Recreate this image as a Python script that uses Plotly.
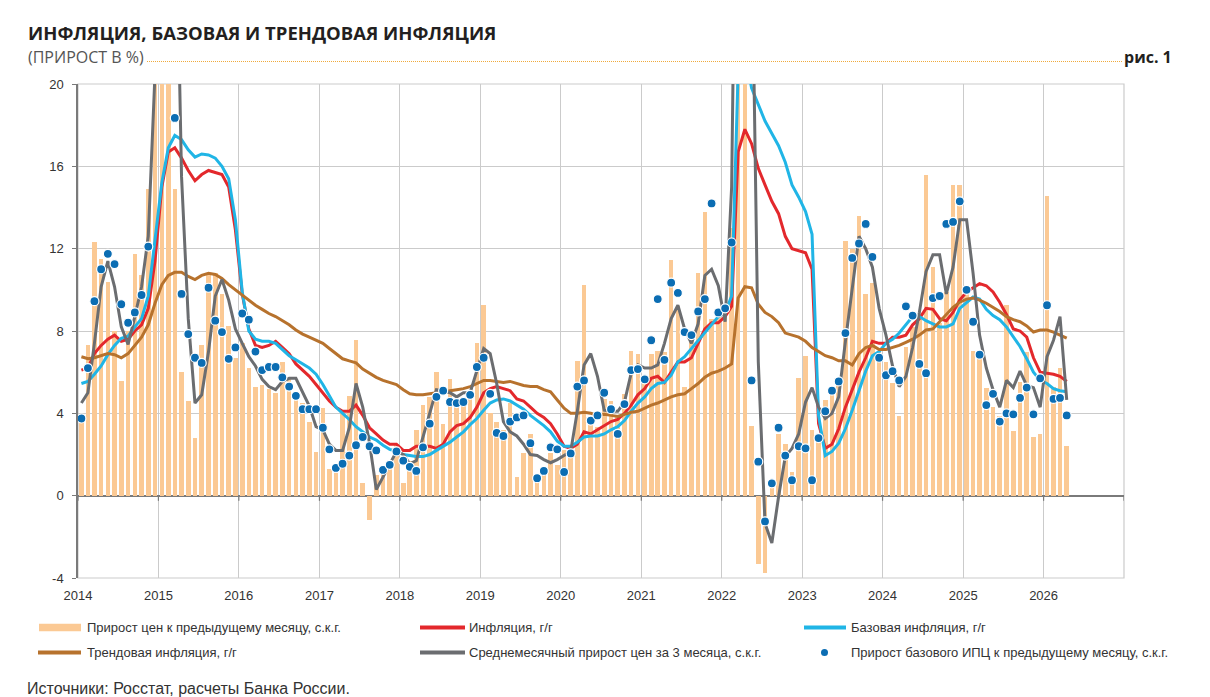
import pandas as pd
import plotly.graph_objects as go

# ---------------- data (Jan 2014 .. Apr 2026, monthly) ----------------
months = pd.date_range("2014-01-01", periods=148, freq="MS")

mom_saar = [  # Прирост цен к предыдущему месяцу, с.к.г.
    3.8, 7.3, 12.3, 11.5, 10.4, 8.0, 5.55, 8.0, 11.75, 10.7, 14.9, 34,
    57, 25, 14.9, 6.0, 4.6, 2.8, 7.3, 10.7, 10.8, 9.8, 8.25, 6.7,
    7.4, 6.2, 5.3, 5.4, 5.2, 5.0, 6.5, 5.7, 5.0, 4.5, 3.6, 2.1,
    4.25, 1.3, 1.1, 4.0, 4.85, 7.55, 0.6, -1.2, 1.0, 1.4, 1.7, 2.5,
    0.6, 1.7, 3.2, 4.4, 4.8, 6.0, 3.5, 5.65, 4.4, 4.5, 5.0, 7.4,
    9.25, 4.0, 3.6, 3.2, 4.5, 0.9, 2.05, 3.0, 0.7, 1.3, 2.05, 1.5,
    2.2, 2.4, 6.55, 10.25, 3.6, 3.35, 4.7, 4.6, 3.9, 4.95, 7.05, 6.9,
    5.6, 6.9, 7.05, 7.0, 11.45, 9.2, 5.3, 7.7, 10.8, 13.8, 8.6, 8.7,
    8.7, 13.0, 60, 21, 3.4, -3.3, -3.75, 0.75, 3.0, 2.5, 1.15, 5.7,
    6.8, 3.2, 2.8, 4.65, 5.0, 5.6, 12.35, 12.0, 13.6, 9.8, 10.35, 7.0,
    6.5, 5.45, 3.85, 7.2, 8.2, 8.7, 15.6, 11.1, 8.4, 9.9, 15.1, 15.1,
    10.0, 7.05, 6.75, 5.25, 4.3, 3.85, 9.25, 3.15, 5.5, 7.0, 2.85, 3.0,
    14.55, 5.3, 6.2, 2.4,
]

cpi_yoy = [  # Инфляция, г/г
    6.1, 6.2, 6.9, 7.3, 7.6, 7.8, 7.5, 7.6, 8.0, 8.3, 9.1, 11.4,
    15.0, 16.7, 16.9, 16.4, 15.8, 15.3, 15.6, 15.8, 15.7, 15.6, 15.0, 12.9,
    9.8, 8.1, 7.3, 7.2, 7.3, 7.5, 7.2, 6.9, 6.4, 6.1, 5.8, 5.4,
    5.0, 4.6, 4.3, 4.1, 4.1, 4.4, 3.9, 3.3, 3.0, 2.7, 2.5, 2.5,
    2.2, 2.2, 2.4, 2.4, 2.4, 2.3, 2.5, 3.1, 3.4, 3.5, 3.8, 4.3,
    5.0, 5.2, 5.3, 5.2, 5.1, 4.7, 4.6, 4.3, 4.0, 3.8, 3.5, 3.0,
    2.4, 2.3, 2.5, 3.1, 3.0, 3.2, 3.4, 3.6, 3.7, 4.0, 4.4, 4.9,
    5.2, 5.7, 5.8, 5.5, 6.0, 6.5, 6.5, 6.7, 7.4, 8.1, 8.4, 8.4,
    8.7, 9.2, 16.7, 17.8, 17.1, 15.9, 15.1, 14.3, 13.7, 12.6, 12.0, 11.9,
    11.8, 11.0, 3.5, 2.3, 2.5, 3.25, 4.3, 5.15, 6.0, 6.7, 7.5, 7.4,
    7.4, 7.7, 7.7, 7.8, 8.3, 8.6, 9.1, 9.05, 8.6, 8.5, 8.9, 9.5,
    9.9, 10.1, 10.3, 10.2, 9.9, 9.4, 8.8, 8.1, 8.0, 7.7, 6.7, 6.0,
    5.95, 5.9, 5.8, 5.55,
]

core_yoy = [  # Базовая инфляция, г/г
    5.45, 5.55, 5.9, 6.3, 6.85, 7.3, 7.65, 7.75, 8.2, 8.6, 9.7, 12.4,
    15.2, 16.9, 17.5, 17.3, 16.8, 16.45, 16.6, 16.55, 16.4, 16.0, 15.4, 13.4,
    9.9, 8.0, 7.6, 7.5, 7.5, 7.4, 7.1, 6.8, 6.6, 6.4, 6.2, 5.9,
    5.4, 4.85, 4.3, 4.0, 3.7, 3.35, 3.1, 2.85, 2.7, 2.45, 2.25, 2.15,
    2.0, 1.95, 1.9, 1.9, 2.0, 2.2, 2.4, 2.6, 2.85, 3.1, 3.45, 3.75,
    4.15, 4.5, 4.65, 4.7, 4.6, 4.4, 4.2, 3.9, 3.65, 3.4, 3.1, 2.65,
    2.4, 2.4, 2.6, 2.85, 2.9, 2.9, 3.0, 3.2, 3.35, 3.65, 4.1, 4.5,
    4.8, 5.2, 5.45, 5.5, 5.85, 6.5, 6.75, 7.15, 7.55, 7.95, 8.35, 8.7,
    8.9, 9.7, 20.6, 21.6, 19.8, 19.0, 18.2, 17.6, 17.0, 16.2, 15.1, 14.5,
    13.8, 12.7, 3.9, 1.95, 2.15, 2.55, 3.25, 4.15, 5.1, 6.05, 6.8, 7.0,
    7.4, 7.6, 7.9, 8.3, 8.7, 8.7, 8.5, 8.35, 8.2, 8.2, 8.35, 9.1,
    9.4, 9.65, 9.55, 9.05, 8.75, 8.55, 8.2, 7.7, 7.25, 6.65, 6.0, 5.6,
    5.45, 5.2, 5.1, 5.05,
]

trend_yoy = [  # Трендовая инфляция, г/г
    6.75, 6.65, 6.7, 6.8, 6.9, 6.85, 6.7, 6.9, 7.3, 7.7, 8.3, 9.35,
    10.25, 10.7, 10.85, 10.85, 10.65, 10.5, 10.7, 10.8, 10.75, 10.55, 10.25, 10.0,
    9.75, 9.5, 9.25, 9.05, 8.85, 8.7, 8.5, 8.3, 8.05, 7.85, 7.7, 7.55,
    7.4, 7.15, 6.9, 6.65, 6.55, 6.45, 6.15, 5.95, 5.75, 5.6, 5.5, 5.4,
    5.15, 4.95, 4.9, 4.9, 4.95, 5.0, 5.0, 5.1, 5.15, 5.2, 5.3, 5.45,
    5.6, 5.6, 5.55, 5.5, 5.55, 5.45, 5.35, 5.3, 5.3, 5.15, 5.05, 4.65,
    4.25, 4.0, 4.0, 4.05, 4.0, 3.9, 3.95, 3.9, 3.85, 3.95, 4.05, 4.1,
    4.25, 4.4, 4.5, 4.65, 4.8, 4.9, 4.95, 5.2, 5.45, 5.75, 5.95, 6.05,
    6.2, 6.4, 9.6, 10.15, 10.1, 9.3, 8.9, 8.7, 8.4, 7.9, 7.8, 7.7,
    7.5, 7.2, 7.0, 6.8, 6.7, 6.55, 6.55, 6.35, 6.9, 7.2, 7.3, 7.1,
    7.1, 7.2, 7.3, 7.45, 7.6, 7.8, 8.05, 8.1, 8.45, 8.75, 9.15, 9.4,
    9.55, 9.6, 9.5, 9.35, 9.15, 8.95, 8.7, 8.55, 8.45, 8.25, 7.95, 8.05,
    8.05, 7.95, 7.8, 7.65,
]

avg3m_saar = [  # Среднемесячный прирост цен за 3 месяца, с.к.г.
    4.5, 5.0, 7.4, 10.15, 11.4, 10.15, 8.2, 7.35, 8.7, 10.15, 12.6, 20.5,
    35, 39, 32, 15.5, 8.6, 4.5, 4.9, 7.0, 9.7, 10.5, 9.5, 8.1,
    7.4, 6.75, 6.3, 5.65, 5.3, 5.15, 5.55, 5.7, 5.7, 5.05, 4.35, 3.35,
    3.2, 2.5, 2.2, 2.2, 3.3, 5.45, 4.3, 2.55, 0.3, 0.9, 1.55, 2.15,
    2.0, 1.55, 1.7, 2.85, 4.1, 5.15, 5.1, 5.0, 4.8, 5.0, 5.0, 6.1,
    7.15, 6.9, 5.45, 3.6, 3.1, 2.9, 2.5, 2.0, 1.95, 1.75, 1.6, 1.75,
    1.95, 2.15, 4.1, 6.35, 6.9, 5.8, 4.15, 4.1, 4.1, 4.55, 5.95, 6.35,
    6.2, 6.2, 6.35, 7.4, 8.6, 9.25, 8.1, 7.4, 8.35, 10.7, 11.0, 10.2,
    8.45, 15.0, 40, 35, 28, 6.5, -1.35, -2.3, -0.05, 1.9, 2.3, 3.0,
    4.55, 5.25, 4.3, 3.75, 4.0, 4.8, 7.5, 10.2, 12.6, 12.0, 11.1, 9.1,
    7.8, 6.3, 5.3, 5.8, 7.2, 8.9, 10.9, 11.7, 11.7, 9.8, 11.1, 13.4,
    13.4, 10.8, 7.8, 6.2, 5.15, 4.3, 5.6, 5.25, 6.05, 5.35, 5.25, 4.3,
    6.75, 7.55, 8.7, 4.65,
]

core_mom_saar = [  # Прирост базового ИПЦ к предыдущему месяцу, с.к.г.
    3.75, 6.2, 9.45, 11.0, 11.75, 11.25, 9.3, 8.4, 8.9, 9.75, 12.1, 26,
    30, 24, 18.35, 9.8, 7.85, 6.7, 6.45, 10.1, 8.5, 7.95, 6.65, 7.2,
    8.85, 8.55, 7.0, 6.1, 6.25, 6.25, 5.75, 5.3, 4.85, 4.2, 4.2, 4.2,
    3.3, 2.25, 1.35, 1.55, 1.95, 2.45, 2.85, 2.4, 2.2, 1.25, 1.5, 2.15,
    1.7, 1.4, 1.2, 2.35, 3.5, 4.8, 5.1, 4.55, 4.5, 4.55, 4.9, 6.25,
    6.7, 4.95, 3.05, 2.9, 3.6, 3.8, 3.9, 2.55, 0.85, 1.2, 2.35, 2.25,
    1.15, 2.05, 5.3, 5.6, 3.65, 3.9, 5.0, 4.2, 3.0, 4.45, 6.1, 6.15,
    5.65, 7.55, 9.55, 6.6, 10.35, 9.85, 7.95, 7.8, 8.95, 9.55, 14.2, 8.9,
    9.1, 12.3, 45, 24, 5.6, 1.65, -1.25, 0.6, 3.3, 1.95, 0.75, 2.4,
    2.3, 0.75, 2.8, 4.1, 5.1, 5.55, 7.9, 11.55, 12.25, 13.2, 11.6, 6.7,
    5.85, 6.05, 5.6, 9.2, 8.75, 6.4, 5.95, 9.6, 9.7, 13.2, 13.3, 14.3,
    10.0, 8.45, 6.85, 4.4, 4.95, 3.6, 4.0, 3.95, 4.75, 5.25, 3.95, 5.7,
    9.25, 4.7, 4.75, 3.9,
]

year_ticks = list(range(2014, 2027))
grid_years = list(range(2014, 2028))
y_ticks = [-4, 0, 4, 8, 12, 16, 20]

labels = {
    "bar": "Прирост цен к предыдущему месяцу, с.к.г.",
    "cpi": "Инфляция, г/г",
    "core": "Базовая инфляция, г/г",
    "trend": "Трендовая инфляция, г/г",
    "avg": "Среднемесячный прирост цен за 3 месяца, с.к.г.",
    "dots": "Прирост базового ИПЦ к предыдущему месяцу, с.к.г.",
}

# ---------------- style ----------------
C_BAR = "#FBC994"
C_RED = "#E3282C"
C_CYAN = "#20B5E6"
C_BROWN = "#B7722D"
C_GRAY = "#6B6D70"
C_DOT = "#0B6DB3"
C_GRID = "#CBCBCB"
C_AXIS = "#7A7A7A"
FONT = "Liberation Sans, Arial, sans-serif"
TFONT = "Open Sans, Noto Sans, sans-serif"

# page body has an 8px default margin: work in screen pixels, subtract offset
OFF = 8
W, H = 1210 - OFF, 697 - OFF
L, R, T, B = 78, 1124, 84, 578   # plot area in screen pixels


def px(x):
    return (x - L) / (R - L)


def py(y):
    return (B - y) / (B - T)


DAY_MS = 86400000
fig = go.Figure()

fig.add_trace(go.Bar(
    x=months, y=mom_saar, name=labels["bar"], marker_color=C_BAR,
    marker_line_width=0, width=21 * DAY_MS,
    xperiod="M1", xperiodalignment="middle",
))
for ys, col, key in [(cpi_yoy, C_RED, "cpi"), (core_yoy, C_CYAN, "core"),
                     (trend_yoy, C_BROWN, "trend"), (avg3m_saar, C_GRAY, "avg")]:
    fig.add_trace(go.Scatter(
        x=months, y=ys, mode="lines", name=labels[key],
        line=dict(color=col, width=3), xperiod="M1", xperiodalignment="middle",
    ))
fig.add_trace(go.Scatter(
    x=months, y=core_mom_saar, mode="markers", name=labels["dots"],
    marker=dict(color=C_DOT, size=9, line=dict(color="white", width=1.2)),
    xperiod="M1", xperiodalignment="middle",
))

fig.update_layout(
    width=W, height=H,
    margin=dict(l=L - OFF, r=(W + OFF) - R, t=T - OFF, b=(H + OFF) - B, pad=0),
    plot_bgcolor="white", paper_bgcolor="white",
    showlegend=False, bargap=0,
    font=dict(family=FONT, size=13, color="#333333"),
    xaxis=dict(
        type="date", range=["2014-01-01", "2027-01-01"],
        tickvals=[f"{y}-01-01" for y in year_ticks],
        ticktext=[str(y) for y in year_ticks],
        showgrid=True, gridcolor=C_GRID, gridwidth=1.2,
        showline=False, ticks="", zeroline=False,
        tickfont=dict(family=FONT, size=13, color="#333333"),
        ticklabelstandoff=8,
    ),
    yaxis=dict(
        range=[-4, 20], tickvals=y_ticks, ticktext=[str(v) for v in y_ticks],
        showgrid=True, gridcolor=C_GRID, gridwidth=1.2,
        zeroline=True, zerolinecolor=C_AXIS, zerolinewidth=1.5,
        showline=True, linecolor=C_AXIS, linewidth=1.5,
        ticks="outside", ticklen=4, tickcolor=C_AXIS, tickwidth=1,
        tickfont=dict(family=FONT, size=13, color="#333333"),
        ticklabelstandoff=6,
    ),
)

shapes = []
# frame (top/right/bottom gridlines)
shapes.append(dict(type="rect", xref="paper", yref="paper", x0=0, x1=1, y0=0, y1=1,
                   line=dict(color=C_GRID, width=1.2), layer="below"))
# small ticks on zero line
for yr in grid_years:
    shapes.append(dict(type="line", xref="x", yref="y",
                       x0=f"{yr}-01-01", x1=f"{yr}-01-01", y0=0, y1=-0.25,
                       line=dict(color=C_AXIS, width=1.2)))
# dotted line after subtitle
shapes.append(dict(type="line", xref="paper", yref="paper",
                   x0=px(147), x1=px(1123), y0=py(61.5), y1=py(61.5),
                   line=dict(color="#F0AA3C", width=1, dash="1px,1px")))

# legend swatches
row1, row2 = 627.5, 652.5
shapes.append(dict(type="rect", xref="paper", yref="paper",
                   x0=px(39), x1=px(81), y0=py(row1 + 3.7), y1=py(row1 - 3.7),
                   fillcolor=C_BAR, line=dict(width=0)))
for (x0, x1, yy, col) in [(420, 465, row1, C_RED), (804, 846, row1, C_CYAN),
                          (38, 81, row2, C_BROWN), (420, 465, row2, C_GRAY)]:
    shapes.append(dict(type="line", xref="paper", yref="paper",
                       x0=px(x0), x1=px(x1), y0=py(yy), y1=py(yy),
                       line=dict(color=col, width=4)))
shapes.append(dict(type="circle", xref="paper", yref="paper",
                   x0=px(821), x1=px(828), y0=py(row2 + 3.5), y1=py(row2 - 3.5),
                   fillcolor=C_DOT, line=dict(width=0)))

annotations = []


def txt(x, y, s, size=13, color="#333333", bold=False, family=FONT, xanchor="left"):
    annotations.append(dict(
        xref="paper", yref="paper", x=px(x), y=py(y), text=f"<b>{s}</b>" if bold else s,
        showarrow=False, xanchor=xanchor, yanchor="middle",
        font=dict(family=family, size=size, color=color),
    ))


txt(26, 33, "ИНФЛЯЦИЯ, БАЗОВАЯ И ТРЕНДОВАЯ ИНФЛЯЦИЯ", size=18.5, color="#231F20",
    bold=True, family=TFONT)
txt(26, 57, "(ПРИРОСТ В %)", size=16, color="#555555", family=TFONT)
txt(1174, 57, "рис. 1", size=16, color="#231F20", bold=True, family=TFONT, xanchor="right")

txt(85, row1, labels["bar"])
txt(467, row1, labels["cpi"])
txt(849, row1, labels["core"])
txt(85, row2, labels["trend"])
txt(467, row2, labels["avg"])
txt(849, row2, labels["dots"])
txt(25, 688, "Источники: Росстат, расчеты Банка России.", size=16)

fig.update_layout(shapes=shapes, annotations=annotations)
fig.write_html("out.html")
